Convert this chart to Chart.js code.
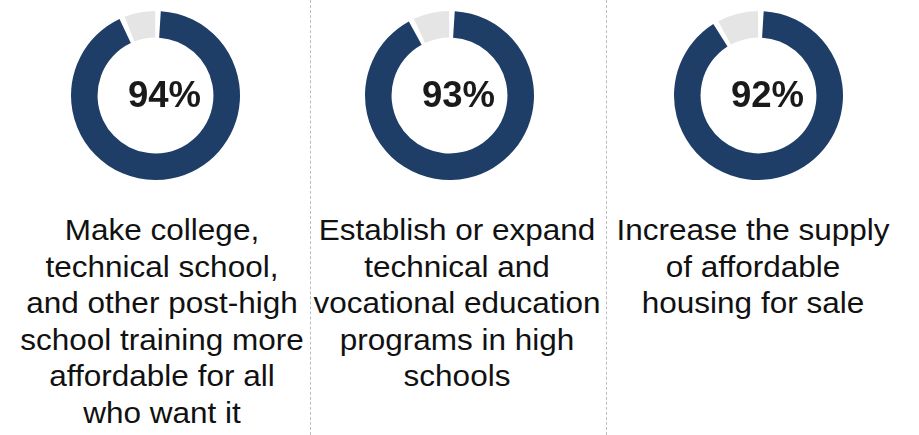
<!DOCTYPE html>
<html>
<head>
<meta charset="utf-8">
<script src="https://cdn.jsdelivr.net/npm/chart.js@4/dist/chart.umd.min.js"></script>
<style>
  body { margin: 0; background: #fff; }
  #wrap { position: relative; width: 919px; height: 435px; overflow: hidden; font-family: "Liberation Sans", Arial, sans-serif; }
  .sep { position: absolute; top: 0; height: 435px; width: 0; border-left: 1px dashed #bdbdbd; }
  .donut { position: absolute; top: 5px; width: 181px; height: 181px; }
  .lbl { position: absolute; top: 212px; width: 300px; text-align: center; font-size: 30px; line-height: 36.5px; color: #111; transform: scaleX(1.05); }
</style>
</head>
<body>
<div id="wrap">
  <div class="sep" style="left:310px"></div>
  <div class="sep" style="left:606px"></div>
  <div class="donut" style="left:65px"><canvas id="c0"></canvas></div>
  <div class="donut" style="left:359px"><canvas id="c1"></canvas></div>
  <div class="donut" style="left:668px"><canvas id="c2"></canvas></div>
  <div class="lbl" id="l0" style="left:12px"></div>
  <div class="lbl" id="l1" style="left:307px"></div>
  <div class="lbl" id="l2" style="left:603px"></div>
</div>
<script>
// chart data
var categories = [
  ['Make college,', 'technical school,', 'and other post-high', 'school training more', 'affordable for all', 'who want it'],
  ['Establish or expand', 'technical and', 'vocational education', 'programs in high', 'schools'],
  ['Increase the supply', 'of affordable', 'housing for sale']
];
var values = [94, 93, 92];

var blue = '#1e3e68';
var grey = '#e5e5e5';

// draws the percent in the middle of the ring
var centerText = {
  id: 'centerText',
  afterDraw: function(chart, args, opts) {
    var ctx = chart.ctx;
    var a = chart.chartArea;
    ctx.save();
    ctx.font = 'bold 36.5px "Liberation Sans", Arial, sans-serif';
    ctx.fillStyle = '#1a1a1a';
    ctx.textAlign = 'center';
    ctx.textBaseline = 'alphabetic';
    ctx.fillText(opts.text, (a.left + a.right) / 2 + 9, 102);
    ctx.restore();
  }
};

for (var i = 0; i < values.length; i++) {
  document.getElementById('l' + i).innerHTML = categories[i].join('<br>');

  var ctx = document.getElementById('c' + i).getContext('2d');
  new Chart(ctx, {
    type: 'doughnut',
    data: {
      labels: ['Yes', 'Other'],
      datasets: [{
        data: [values[i], 100 - values[i]],
        backgroundColor: [blue, grey],
        borderWidth: 0,
        spacing: 3
      }]
    },
    options: {
      responsive: true,
      maintainAspectRatio: false,
      animation: false,
      cutout: '68%',
      layout: { padding: 6 },
      plugins: {
        legend: { display: false },
        tooltip: { enabled: false },
        centerText: { text: values[i] + '%' }
      }
    },
    plugins: [centerText]
  });
}
</script>
</body>
</html>
